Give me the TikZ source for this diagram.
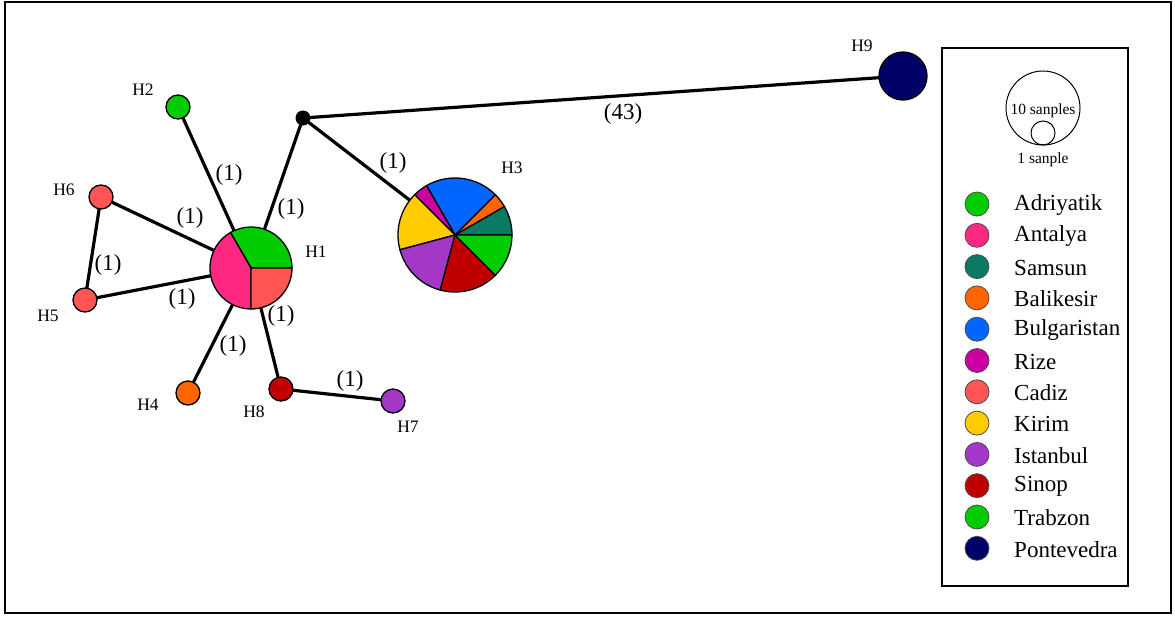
\documentclass[tikz,border=0pt]{standalone}
\usepackage{fontspec}
\setmainfont{Liberation Serif}
\definecolor{cAdr}{RGB}{0,204,0}
\definecolor{cAnt}{RGB}{255,40,128}
\definecolor{cSam}{RGB}{10,122,100}
\definecolor{cBal}{RGB}{255,102,0}
\definecolor{cBul}{RGB}{0,102,255}
\definecolor{cRiz}{RGB}{204,0,160}
\definecolor{cCad}{RGB}{255,85,85}
\definecolor{cKir}{RGB}{255,204,0}
\definecolor{cIst}{RGB}{165,55,200}
\definecolor{cSin}{RGB}{192,0,0}
\definecolor{cTra}{RGB}{0,204,0}
\definecolor{cPon}{RGB}{0,0,102}
\newcommand\myslice[5]{\filldraw[fill=#5, draw=black, line width=1.3pt] (#1) -- ++(#3:#2) arc[start angle=#3, end angle=#4, radius=#2] -- cycle;}
\begin{document}
\begin{tikzpicture}[x=1pt,y=-1pt,
  hap/.style={circle, draw=black, line width=1.3pt, inner sep=0pt, minimum size=24pt},
  pienode/.style={circle, draw=none, inner sep=0pt},
  link/.style={line width=3.2pt, line cap=round},
  mut/.style={font=\fontsize{23}{27}\selectfont, inner sep=0pt},
  hlab/.style={font=\fontsize{17.5}{20}\selectfont, inner sep=0pt},
  legtext/.style={font=\fontsize{23}{27}\selectfont, anchor=west, inner sep=0pt},
  legdot/.style={circle, draw=black!70, line width=0.8pt, inner sep=0pt, minimum size=24pt}]
\useasboundingbox (0,0) rectangle (1175,616);
\draw[line width=1.5pt] (5,2) rectangle (1171,613);
% nodes
\node[pienode, minimum size=82pt] (H1) at (251,268) {};
\node[pienode, minimum size=114pt] (H3) at (455,235) {};
\node[hap, fill=cAdr] (H2) at (178,107) {};
\node[hap, fill=cCad] (H6) at (101,197) {};
\node[hap, fill=cCad] (H5) at (85,300) {};
\node[hap, fill=cBal] (H4) at (188,393) {};
\node[hap, fill=cSin] (H8) at (281,389) {};
\node[hap, fill=cIst] (H7) at (393,401) {};
\node[hap, fill=cPon, minimum size=48pt] (H9) at (903,76) {};
\node[circle, fill=black, inner sep=0pt, minimum size=15pt] (mv) at (303,118) {};
% links
\draw[link] (H1) -- (H2);
\draw[link] (H1) -- (mv);
\draw[link] (mv) -- (H9);
\draw[link] (mv) -- (H3);
\draw[link] (H1) -- (H6);
\draw[link] (H1) -- (H5);
\draw[link] (H6) -- (H5);
\draw[link] (H1) -- (H4);
\draw[link] (H1) -- (H8);
\draw[link] (H8) -- (H7);
% pies
\myslice{H1.center}{41pt}{0}{120}{cAdr}
\myslice{H1.center}{41pt}{120}{270}{cAnt}
\myslice{H1.center}{41pt}{270}{360}{cCad}
\myslice{H3.center}{57pt}{0}{30}{cSam}
\myslice{H3.center}{57pt}{30}{45}{cBal}
\myslice{H3.center}{57pt}{45}{120}{cBul}
\myslice{H3.center}{57pt}{120}{135}{cRiz}
\myslice{H3.center}{57pt}{135}{195}{cKir}
\myslice{H3.center}{57pt}{195}{255}{cIst}
\myslice{H3.center}{57pt}{255}{315}{cSin}
\myslice{H3.center}{57pt}{315}{360}{cTra}
% mutation labels
\node[mut] (m12) at (229,175) {(1)};
\node[mut] (m1v) at (291,209) {(1)};
\node[mut] (m16) at (190,218) {(1)};
\node[mut] (m65) at (108,265) {(1)};
\node[mut] (m15) at (182,299) {(1)};
\node[mut] (m14) at (233,346) {(1)};
\node[mut] (m18) at (281,316) {(1)};
\node[mut] (m87) at (350,381) {(1)};
\node[mut] (mv3) at (393,163) {(1)};
\node[mut] (mv9) at (623,114) {(43)};
% haplotype labels
\node[hlab] (l1) at (316,252) {H1};
\node[hlab] (l2) at (143,90) {H2};
\node[hlab] (l3) at (512,168) {H3};
\node[hlab] (l4) at (148,405) {H4};
\node[hlab] (l5) at (48,316) {H5};
\node[hlab] (l6) at (64,190) {H6};
\node[hlab] (l7) at (408,427) {H7};
\node[hlab] (l8) at (254,412) {H8};
\node[hlab] (l9) at (862,46) {H9};
% legend
\draw[line width=1.8pt] (942,48) rectangle (1128,586);
\node[circle, draw=black, line width=1pt, inner sep=0pt, minimum size=74pt] (big) at (1043,108) {};
\node[circle, draw=black, line width=1pt, inner sep=0pt, minimum size=24pt] (small) at (1043,133) {};
\node[font=\fontsize{15.5}{18}\selectfont, inner sep=0pt] (t10) at (1043,111) {10 sanples};
\node[font=\fontsize{15.5}{18}\selectfont, inner sep=0pt] (t1) at (1043,160) {1 sanple};
\foreach \c/\t [count=\i from 0] in {cAdr/Adriyatik, cAnt/Antalya, cSam/Samsun, cBal/Balikesir, cBul/Bulgaristan, cRiz/Rize, cCad/Cadiz, cKir/Kirim, cIst/Istanbul, cSin/Sinop, cTra/Trabzon, cPon/Pontevedra}{
  \node[legdot, fill=\c] (d\i) at (977,{204+31.3*\i}) {};
  \node[legtext] (t\i) at (1014,{205+31.3*\i}) {\t};
}
\end{tikzpicture}
\end{document}
